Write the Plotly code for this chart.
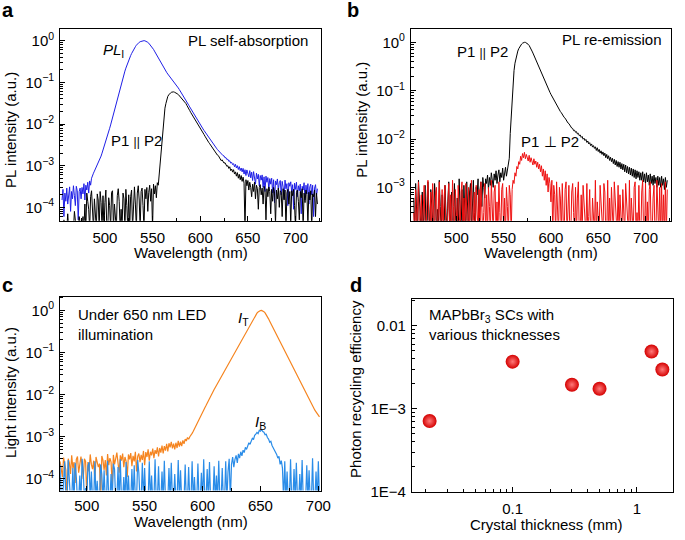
import plotly.graph_objects as go

# ---------------- data (1 nm sampling) ----------------
wl_ab = [455, 456, 457, 458, 459, 460, 461, 462, 463, 464,
         465, 466, 467, 468, 469, 470, 471, 472, 473, 474,
         475, 476, 477, 478, 479, 480, 481, 482, 483, 484,
         485, 486, 487, 488, 489, 490, 491, 492, 493, 494,
         495, 496, 497, 498, 499, 500, 501, 502, 503, 504,
         505, 506, 507, 508, 509, 510, 511, 512, 513, 514,
         515, 516, 517, 518, 519, 520, 521, 522, 523, 524,
         525, 526, 527, 528, 529, 530, 531, 532, 533, 534,
         535, 536, 537, 538, 539, 540, 541, 542, 543, 544,
         545, 546, 547, 548, 549, 550, 551, 552, 553, 554,
         555, 556, 557, 558, 559, 560, 561, 562, 563, 564,
         565, 566, 567, 568, 569, 570, 571, 572, 573, 574,
         575, 576, 577, 578, 579, 580, 581, 582, 583, 584,
         585, 586, 587, 588, 589, 590, 591, 592, 593, 594,
         595, 596, 597, 598, 599, 600, 601, 602, 603, 604,
         605, 606, 607, 608, 609, 610, 611, 612, 613, 614,
         615, 616, 617, 618, 619, 620, 621, 622, 623, 624,
         625, 626, 627, 628, 629, 630, 631, 632, 633, 634,
         635, 636, 637, 638, 639, 640, 641, 642, 643, 644,
         645, 646, 647, 648, 649, 650, 651, 652, 653, 654,
         655, 656, 657, 658, 659, 660, 661, 662, 663, 664,
         665, 666, 667, 668, 669, 670, 671, 672, 673, 674,
         675, 676, 677, 678, 679, 680, 681, 682, 683, 684,
         685, 686, 687, 688, 689, 690, 691, 692, 693, 694,
         695, 696, 697, 698, 699, 700, 701, 702, 703, 704,
         705, 706, 707, 708, 709, 710, 711, 712, 713, 714,
         715, 716, 717, 718, 719, 720, 721, 722, 723]

# panel a : PL_I (blue)
pl_i_a = [1.5e-4, 2.7e-4, 6e-5, 2.2e-4, 1.4e-4, 2.9e-4, 1.2e-4, 2.1e-4, 3.1e-4, 8e-5,
          2.4e-4, 1.6e-4, 3.3e-4, 1.9e-4, 1.1e-4, 3.2e-4, 2.5e-4, 5e-5, 2.4e-4, 2.9e-4,
          1.6e-4, 3.0e-4, 2.1e-4, 3.7e-4, 1.5e-4, 3.4e-4, 2.6e-4, 4.0e-4, 2.2e-4, 4.3e-4,
          3.4e-4, 5.0e-4, 6.0e-4, 6.6e-4, 7.4e-4, 8.3e-4, 9.3e-4, 1.05e-3, 1.15e-3, 1.26e-3,
          1.45e-3, 1.7e-3, 2.0e-3, 2.34e-3, 2.75e-3, 3.24e-3, 3.8e-3, 4.57e-3, 5.5e-3, 6.6e-3,
          7.9e-3, 9.5e-3, 1.17e-2, 1.45e-2, 1.78e-2, 2.19e-2, 2.69e-2, 3.31e-2, 4.07e-2, 5.0e-2,
          6.17e-2, 7.41e-2, 8.91e-2, 0.107, 0.129, 0.155, 0.186, 0.219, 0.257, 0.295,
          0.339, 0.389, 0.437, 0.49, 0.55, 0.603, 0.661, 0.716, 0.776, 0.832,
          0.871, 0.912, 0.944, 0.966, 0.986, 0.998, 1.0, 0.991, 0.973, 0.944,
          0.912, 0.871, 0.822, 0.776, 0.724, 0.676, 0.617, 0.562, 0.513, 0.462,
          0.417, 0.376, 0.339, 0.305, 0.275, 0.251, 0.229, 0.209, 0.195, 0.182,
          0.17, 0.158, 0.148, 0.138, 0.129, 0.12, 0.112, 0.105, 0.0977, 0.0912,
          0.0851, 0.0794, 0.0733, 0.0676, 0.0624, 0.0575, 0.0531, 0.049, 0.0447, 0.0407,
          0.0372, 0.0339, 0.0309, 0.0282, 0.0257, 0.0234, 0.0214, 0.0195, 0.0178, 0.0162,
          0.0148, 0.0136, 0.0126, 0.0116, 0.0107, 0.00977, 0.00891, 0.00822, 0.00759, 0.007,
          0.00646, 0.00596, 0.0055, 0.00507, 0.00468, 0.00432, 0.00398, 0.00372, 0.00347, 0.00324,
          0.00302, 0.00282, 0.00263, 0.00245, 0.00229, 0.00216, 0.00204, 0.00193, 0.00182, 0.00174,
          1.72e-3, 1.55e-3, 1.56e-3, 1.40e-3, 1.43e-3, 1.27e-3, 1.31e-3, 1.15e-3, 1.2e-3, 1.06e-3,
          1.12e-3, 9.4e-4, 1.08e-3, 8.8e-4, 1.0e-3, 8.1e-4, 9.5e-4, 7.6e-4, 8.8e-4, 7.1e-4,
          8.6e-4, 6.3e-4, 8.0e-4, 5.8e-4, 7.9e-4, 6.2e-4, 5.4e-4, 7.6e-4, 5.1e-4, 7.0e-4,
          4.4e-4, 7.2e-4, 5.0e-4, 3.6e-4, 6.6e-4, 4.8e-4, 6.2e-4, 3.3e-4, 5.8e-4, 4.5e-4,
          6.0e-4, 3.0e-4, 5.4e-4, 2.4e-4, 5.6e-4, 4.0e-4, 5.2e-4, 2.7e-4, 4.9e-4, 3.6e-4,
          5.0e-4, 2.2e-4, 4.6e-4, 1.3e-4, 4.3e-4, 3.5e-4, 4.8e-4, 2.6e-4, 3.9e-4, 4.4e-4,
          2.0e-4, 4.2e-4, 3.1e-4, 1.6e-4, 4.5e-4, 2.8e-4, 3.7e-4, 1.1e-4, 3.9e-4, 3.2e-4,
          4.1e-4, 2.3e-4, 3.5e-4, 9e-5, 3.8e-4, 2.7e-4, 4.0e-4, 1.8e-4, 3.3e-4, 2.5e-4,
          3.6e-4, 7e-5, 3.2e-4, 2.6e-4, 3.9e-4, 1.5e-4, 3.4e-4, 2.1e-4, 3.7e-4, 1.2e-4,
          3.1e-4, 3.6e-4, 2.0e-4, 3.4e-4, 6e-5, 2.9e-4, 3.5e-4, 1.9e-4, 2.8e-4]

# panel a : P1 || P2 (black)
par_a = [3e-5, 3e-5, 5e-5, 3e-5, 3e-5, 3e-5, 7e-5, 3e-5, 3e-5, 3e-5,
         4e-5, 3e-5, 3e-5, 8e-5, 3e-5, 3e-5, 3e-5, 3e-5, 6e-5, 3e-5,
         3e-5, 3e-5, 6e-5, 3e-5, 1.2e-4, 3e-5, 2.2e-4, 1.4e-4, 9e-5, 3e-5,
         1.8e-4, 2.5e-4, 1.1e-4, 3e-5, 1.6e-4, 3e-5, 3e-5, 2.1e-4, 1.5e-4, 3e-5,
         2.4e-4, 1.3e-4, 3e-5, 1.9e-4, 3e-5, 1.3e-4, 2.6e-4, 3e-5, 3e-5, 1.7e-4,
         1.1e-4, 3e-5, 2.3e-4, 2.5e-4, 3e-5, 1.2e-4, 3e-5, 3e-5, 1.9e-4, 2.8e-4,
         1.4e-4, 3e-5, 9e-5, 3e-5, 2.2e-4, 1.6e-4, 3e-5, 2.7e-4, 1.1e-4, 3e-5,
         2.0e-4, 3e-5, 1.8e-4, 2.6e-4, 3e-5, 1.4e-4, 3.1e-4, 1.2e-4, 3e-5, 2.2e-4,
         3.3e-4, 1.5e-4, 3e-5, 2.4e-4, 2.9e-4, 1.1e-4, 3e-5, 2.7e-4, 1.6e-4, 3.0e-4,
         8e-5, 2.3e-4, 3.4e-4, 1.4e-4, 2.8e-4, 3e-5, 3.6e-4, 2.1e-4, 3.3e-4, 1.7e-4,
         3.9e-4, 3.4e-4, 6.5e-4, 1.3e-3, 2.6e-3, 5.0e-3, 9.5e-3, 1.6e-2, 2.4e-2, 3.1e-2,
         4.0e-2, 4.6e-2, 5.0e-2, 5.4e-2, 5.6e-2, 5.8e-2, 5.9e-2, 5.9e-2, 5.8e-2, 5.7e-2,
         5.5e-2, 5.3e-2, 5.1e-2, 4.8e-2, 4.6e-2, 4.3e-2, 4.1e-2, 3.8e-2, 3.6e-2, 3.3e-2,
         3.1e-2, 2.8e-2, 2.6e-2, 2.35e-2, 2.1e-2, 1.9e-2, 1.75e-2, 1.6e-2, 1.45e-2, 1.32e-2,
         1.2e-2, 1.1e-2, 1.0e-2, 9.2e-3, 8.5e-3, 7.8e-3, 7.2e-3, 6.6e-3, 6.1e-3, 5.6e-3,
         5.1e-3, 4.6e-3, 4.2e-3, 3.9e-3, 3.6e-3, 3.35e-3, 3.1e-3, 2.85e-3, 2.6e-3, 2.4e-3,
         2.25e-3, 2.05e-3, 1.95e-3, 1.8e-3, 1.75e-3, 1.55e-3, 1.5e-3, 1.32e-3, 1.38e-3, 1.2e-3,
         1.15e-3, 1.18e-3, 1.02e-3, 9.6e-4, 1.0e-3, 8.6e-4, 9.4e-4, 7.6e-4, 8.3e-4, 7.0e-4,
         8.0e-4, 6.3e-4, 7.1e-4, 5.6e-4, 6.8e-4, 5.0e-4, 6.2e-4, 4.6e-4, 5.8e-4, 4.2e-4,
         5.3e-4, 3.8e-4, 3e-5, 4.6e-4, 3.3e-4, 4.4e-4, 2.6e-4, 4.0e-4, 3.0e-4, 1.8e-4,
         3.6e-4, 2.4e-4, 4.0e-4, 1.6e-4, 3.4e-4, 2.8e-4, 9e-5, 3.0e-4, 3.5e-4, 2.0e-4,
         2.9e-4, 1.2e-4, 3.2e-4, 2.6e-4, 5e-5, 2.8e-4, 1.8e-4, 3.1e-4, 2.4e-4, 7e-5,
         2.7e-4, 1.4e-4, 3.0e-4, 2.2e-4, 4e-5, 2.6e-4, 1.6e-4, 2.9e-4, 1.0e-4, 2.5e-4,
         2.3e-4, 6e-5, 2.8e-4, 1.5e-4, 2.6e-4, 3e-5, 2.2e-4, 2.7e-4, 1.2e-4, 2.4e-4,
         4e-5, 2.5e-4, 1.9e-4, 2.7e-4, 1.1e-4, 3e-5, 2.3e-4, 2.6e-4, 1.4e-4, 5e-5,
         2.4e-4, 1.7e-4, 2.8e-4, 3e-5, 2.2e-4, 1.3e-4, 2.6e-4, 2.0e-4, 4e-5, 2.3e-4,
         1.5e-4, 2.5e-4, 3e-5, 2.1e-4, 1.8e-4, 2.6e-4, 6e-5, 2.2e-4, 1.2e-4]

# panel b : P1 || P2 (black)
par_b = [6e-4, 1.0e-4, 1.2e-3, 3e-4, 1.0e-4, 1.4e-3, 7e-4, 2e-4, 1.0e-4, 8e-4,
         1.0e-4, 4e-4, 1.1e-3, 1.0e-4, 1.0e-4, 1.3e-3, 5e-4, 1.0e-4, 9e-4, 2.5e-4,
         1.0e-4, 1.0e-4, 1.2e-3, 6e-4, 1.0e-4, 3.5e-4, 1.0e-4, 1.4e-3, 4e-4, 1.0e-4,
         7e-4, 1.0e-4, 1.0e-4, 1.1e-3, 2.8e-4, 1.0e-4, 5e-4, 1.3e-3, 1.0e-4, 3e-4,
         8e-4, 1.0e-4, 1.0e-4, 1.2e-3, 4.5e-4, 1.0e-4, 6e-4, 1.0e-4, 1.5e-3, 3e-4,
         1.0e-4, 9e-4, 1.0e-4, 1.1e-3, 5e-4, 1.0e-4, 1.3e-3, 2.5e-4, 1.0e-4, 8e-4,
         1.2e-3, 1.0e-4, 6e-4, 1.4e-3, 3e-4, 1.0e-4, 1.0e-3, 7e-4, 1.5e-3, 1.0e-4,
         9e-4, 1.3e-3, 4e-4, 1.6e-3, 1.0e-3, 6e-4, 1.5e-3, 1.2e-3, 1.8e-3, 9e-4,
         1.6e-3, 1.1e-3, 2.0e-3, 1.3e-3, 1.0e-3, 1.9e-3, 1.4e-3, 2.2e-3, 1.2e-3, 1.8e-3,
         2.3e-3, 1.3e-3, 2.0e-3, 1.6e-3, 2.5e-3, 1.4e-3, 2.1e-3, 2.6e-3, 1.7e-3, 2.4e-3,
         2.8e-3, 4.0e-3, 1.3e-2, 2.9e-2, 7.0e-2, 0.15, 0.26, 0.37, 0.47, 0.57,
         0.66, 0.74, 0.81, 0.87, 0.92, 0.96, 0.99, 1.0, 1.0, 0.98,
         0.95, 0.91, 0.86, 0.8, 0.73, 0.66, 0.6, 0.54, 0.49, 0.44,
         0.39, 0.35, 0.31, 0.28, 0.25, 0.22, 0.2, 0.18, 0.16, 0.145,
         0.13, 0.12, 0.11, 0.1, 0.092, 0.084, 0.077, 0.071, 0.065, 0.06,
         0.055, 0.05, 0.046, 0.043, 0.04, 0.037, 0.035, 0.032, 0.03, 0.028,
         0.027, 0.0248, 0.0238, 0.0215, 0.0208, 0.019, 0.0184, 0.0168, 0.0165, 0.0149,
         0.0152, 0.0138, 0.0142, 0.0127, 0.0131, 0.0117, 0.0121, 0.0108, 0.0113, 0.0099,
         0.0104, 0.0093, 0.0098, 0.0085, 0.0091, 0.0079, 0.0084, 0.0073, 0.0079, 0.0068,
         0.0073, 0.0064, 0.0069, 0.0058, 0.0066, 0.0055, 0.0061, 0.0051, 0.0057, 0.0048,
         0.0054, 0.0045, 0.0051, 0.0041, 0.0048, 0.0039, 0.0045, 0.0036, 0.0042, 0.0034,
         0.004, 0.0031, 0.0038, 0.0029, 0.0036, 0.0027, 0.0034, 0.0026, 0.0033, 0.0024,
         0.0031, 0.0023, 0.003, 0.0021, 0.0029, 0.002, 0.0027, 0.0019, 0.0026, 0.0018,
         0.0025, 0.0017, 0.0024, 0.0016, 0.0023, 0.0015, 0.0022, 0.0016, 0.0021, 0.0014,
         0.002, 0.0014, 0.0021, 0.0013, 0.0019, 0.0012, 0.002, 0.0013, 0.0018, 0.0011,
         0.0019, 0.0012, 0.0017, 0.0011, 0.0018, 0.0012, 0.0016, 0.001, 0.0017, 0.0011,
         0.0016, 0.001, 0.0017, 0.0011, 0.0015, 0.0009, 0.0016, 0.001, 0.0014]

# panel b : P1 ⊥ P2 (red)
perp_b = [3e-4, 1.0e-4, 9e-4, 1.0e-4, 4e-4, 1.3e-3, 1.0e-4, 2.5e-4, 7e-4, 1.0e-4,
          5e-4, 1.1e-3, 1.0e-4, 1.0e-4, 6e-4, 1.4e-3, 2e-4, 1.0e-4, 8e-4, 1.0e-4,
          1.2e-3, 3e-4, 1.0e-4, 7e-4, 1.0e-3, 1.0e-4, 4e-4, 1.3e-3, 1.0e-4, 2e-4,
          9e-4, 1.0e-4, 6e-4, 1.1e-3, 1.0e-4, 1.0e-4, 3.5e-4, 1.2e-3, 1.0e-4, 7e-4,
          1.0e-4, 1.4e-3, 4e-4, 1.0e-4, 9e-4, 2.5e-4, 1.0e-4, 1.1e-3, 5e-4, 1.0e-4,
          8e-4, 1.3e-3, 1.0e-4, 6e-4, 1.0e-4, 1.2e-3, 3e-4, 1.0e-4, 1.0e-3, 1.0e-4,
          5e-4, 1.4e-3, 1.0e-4, 2e-4, 8e-4, 1.0e-4, 1.1e-3, 4e-4, 1.0e-4, 9e-4,
          1.0e-4, 1.3e-3, 6e-4, 1.0e-4, 3e-4, 1.2e-3, 1.0e-4, 7e-4, 1.0e-4, 1.0e-3,
          4e-4, 1.0e-4, 1.4e-3, 2e-4, 1.0e-4, 8e-4, 1.1e-3, 1.0e-4, 5e-4, 1.0e-4,
          1.3e-3, 3e-4, 1.0e-4, 9e-4, 1.2e-3, 1.0e-4, 6e-4, 1.0e-4, 1.0e-3, 4e-4,
          1.0e-4, 1.1e-3, 7e-4, 1.0e-4, 9e-4, 1.4e-3, 1.2e-3, 2.0e-3, 1.7e-3, 2.7e-3,
          2.4e-3, 3.4e-3, 3.0e-3, 4.4e-3, 3.6e-3, 5.0e-3, 4.1e-3, 5.3e-3, 3.9e-3, 4.8e-3,
          4.2e-3, 3.5e-3, 4.6e-3, 3.3e-3, 4.1e-3, 3.6e-3, 2.9e-3, 3.9e-3, 3.0e-3, 3.5e-3,
          2.6e-3, 3.3e-3, 2.4e-3, 3.0e-3, 2.1e-3, 2.8e-3, 1.7e-3, 2.4e-3, 1.4e-3, 2.2e-3,
          1.1e-3, 1.9e-3, 8e-4, 1.6e-3, 1.2e-3, 5e-4, 1.4e-3, 1.0e-4, 1.1e-3, 7e-4,
          1.0e-4, 1.3e-3, 4e-4, 1.0e-4, 1.0e-3, 6e-4, 1.0e-4, 1.2e-3, 2e-4, 1.0e-4,
          9e-4, 1.3e-3, 1.0e-4, 5e-4, 1.1e-3, 1.0e-4, 1.0e-4, 8e-4, 1.2e-3, 3e-4,
          1.0e-4, 1.0e-3, 1.0e-4, 6e-4, 1.3e-3, 1.0e-4, 1.0e-4, 7e-4, 1.0e-4, 1.1e-3,
          4e-4, 1.0e-4, 1.0e-4, 1.2e-3, 1.0e-4, 2.5e-4, 9e-4, 1.0e-4, 1.0e-4, 6e-4,
          1.0e-4, 1.0e-4, 1.4e-3, 1.0e-4, 5e-4, 1.0e-4, 1.0e-4, 1.1e-3, 3e-4, 1.0e-4,
          1.0e-4, 1.2e-3, 8e-4, 1.0e-4, 1.0e-4, 1.4e-3, 1.0e-4, 6e-4, 1.0e-4, 1.0e-3,
          1.0e-4, 1.0e-4, 1.3e-3, 4e-4, 1.0e-4, 1.0e-4, 1.1e-3, 1.0e-4, 7e-4, 1.0e-4,
          1.0e-4, 9e-4, 1.0e-4, 1.0e-4, 1.2e-3, 5e-4, 1.0e-4, 1.0e-4, 1.4e-3, 1.0e-4,
          6e-4, 1.0e-4, 1.0e-4, 1.0e-3, 1.3e-3, 1.0e-4, 3e-4, 1.0e-4, 1.1e-3, 1.0e-4,
          1.0e-4, 8e-4, 1.4e-3, 1.0e-4, 1.0e-4, 1.2e-3, 1.0e-4, 5e-4, 1.0e-4, 9e-4,
          1.3e-3, 1.0e-4, 1.0e-4, 6e-4, 1.1e-3, 1.0e-4, 1.0e-4, 1.4e-3, 3e-4, 1.0e-4,
          1.0e-3, 1.0e-4, 1.2e-3, 1.0e-4, 7e-4, 1.0e-4, 1.3e-3, 1.0e-4, 9e-4]

# panel c
wl_c = [477, 478, 479, 480, 481, 482, 483, 484, 485, 486,
        487, 488, 489, 490, 491, 492, 493, 494, 495, 496,
        497, 498, 499, 500, 501, 502, 503, 504, 505, 506,
        507, 508, 509, 510, 511, 512, 513, 514, 515, 516,
        517, 518, 519, 520, 521, 522, 523, 524, 525, 526,
        527, 528, 529, 530, 531, 532, 533, 534, 535, 536,
        537, 538, 539, 540, 541, 542, 543, 544, 545, 546,
        547, 548, 549, 550, 551, 552, 553, 554, 555, 556,
        557, 558, 559, 560, 561, 562, 563, 564, 565, 566,
        567, 568, 569, 570, 571, 572, 573, 574, 575, 576,
        577, 578, 579, 580, 581, 582, 583, 584, 585, 586,
        587, 588, 589, 590, 591, 592, 593, 594, 595, 596,
        597, 598, 599, 600, 601, 602, 603, 604, 605, 606,
        607, 608, 609, 610, 611, 612, 613, 614, 615, 616,
        617, 618, 619, 620, 621, 622, 623, 624, 625, 626,
        627, 628, 629, 630, 631, 632, 633, 634, 635, 636,
        637, 638, 639, 640, 641, 642, 643, 644, 645, 646,
        647, 648, 649, 650, 651, 652, 653, 654, 655, 656,
        657, 658, 659, 660, 661, 662, 663, 664, 665, 666,
        667, 668, 669, 670, 671, 672, 673, 674, 675, 676,
        677, 678, 679, 680, 681, 682, 683, 684, 685, 686,
        687, 688, 689, 690, 691, 692, 693, 694, 695, 696,
        697, 698, 699, 700, 701]

# panel c : I_T (orange)
i_t = [2.6e-4, 1.4e-4, 1.1e-4, 3.2e-4, 2.0e-4, 1.6e-4, 3e-5, 3.0e-4, 2.4e-4, 1.3e-4,
       3.6e-4, 1.8e-4, 2.5e-4, 8e-5, 2.9e-4, 3.4e-4, 1.4e-4, 2.2e-4, 3.4e-4, 2.0e-4,
       1.0e-4, 3.0e-4, 2.6e-4, 4e-5, 2.5e-4, 1.5e-4, 3.8e-4, 2.2e-4, 1.7e-4, 2.7e-4,
       9e-5, 3.3e-4, 2.4e-4, 1.9e-4, 2.3e-4, 3e-5, 3.5e-4, 2.8e-4, 1.6e-4, 2.8e-4,
       1.2e-4, 3.9e-4, 2.1e-4, 3.1e-4, 2.5e-4, 7e-5, 3.7e-4, 2.2e-4, 3.0e-4, 4.2e-4,
       2.4e-4, 1.4e-4, 3.6e-4, 2.7e-4, 4.0e-4, 1.9e-4, 3.3e-4, 2.6e-4, 1.1e-4, 3.8e-4,
       2.9e-4, 4.1e-4, 2.0e-4, 3.5e-4, 2.6e-4, 4.4e-4, 1.5e-4, 3.4e-4, 4.0e-4, 2.5e-4,
       3.7e-4, 2.8e-4, 4.6e-4, 2.1e-4, 4.3e-4, 3.3e-4, 5.0e-4, 2.7e-4, 4.4e-4, 3.6e-4,
       5.2e-4, 3.1e-4, 4.8e-4, 3.9e-4, 5.6e-4, 3.4e-4, 5.4e-4, 4.2e-4, 6.2e-4, 4.0e-4,
       6.0e-4, 4.7e-4, 6.8e-4, 4.5e-4, 7.0e-4, 5.6e-4, 7.6e-4, 5.3e-4, 6.9e-4, 5.0e-4,
       7.2e-4, 5.4e-4, 8.0e-4, 5.8e-4, 7.6e-4, 6.0e-4, 8.2e-4, 6.8e-4, 8.8e-4, 7.9e-4,
       9.6e-4, 8.7e-4, 1.0e-3, 1.07e-3, 1.2e-3, 1.35e-3, 1.55e-3, 1.78e-3, 2.04e-3, 2.29e-3,
       2.63e-3, 2.95e-3, 3.31e-3, 3.8e-3, 4.27e-3, 4.9e-3, 5.5e-3, 6.31e-3, 7.08e-3, 8.13e-3,
       9.12e-3, 1.05e-2, 1.17e-2, 1.32e-2, 1.48e-2, 1.66e-2, 1.86e-2, 2.09e-2, 2.34e-2, 2.63e-2,
       2.95e-2, 3.31e-2, 3.72e-2, 4.17e-2, 4.68e-2, 5.25e-2, 5.89e-2, 6.61e-2, 7.41e-2, 8.32e-2,
       9.33e-2, 0.105, 0.117, 0.132, 0.148, 0.166, 0.186, 0.209, 0.234, 0.263,
       0.295, 0.331, 0.372, 0.417, 0.468, 0.525, 0.589, 0.661, 0.724, 0.794,
       0.861, 0.923, 0.966, 0.993, 1.0, 0.982, 0.933, 0.871, 0.794, 0.708,
       0.631, 0.556, 0.49, 0.432, 0.38, 0.335, 0.295, 0.26, 0.229, 0.202,
       0.178, 0.157, 0.138, 0.122, 0.107, 0.0944, 0.0832, 0.0733, 0.0646, 0.0569,
       0.0501, 0.0442, 0.0389, 0.0343, 0.0302, 0.0266, 0.0234, 0.0207, 0.0182, 0.016,
       0.0141, 0.0124, 0.011, 0.00966, 0.00851, 0.00759, 0.00676, 0.00603, 0.00537, 0.00479,
       0.00427, 0.00389, 0.00355, 0.00324, 0.00295]

# panel c : I_B (blue)
i_b = [2.2e-4, 3e-5, 3e-5, 1.4e-4, 2.6e-4, 3e-5, 3e-5, 2.8e-4, 8e-5, 3e-5,
       3e-5, 1.8e-4, 3e-5, 2.4e-4, 1.1e-4, 3e-5, 3e-5, 1.2e-4, 3e-5, 3.0e-4,
       1.5e-4, 3e-5, 6e-5, 3e-5, 2.0e-4, 2.5e-4, 3e-5, 1.5e-4, 3e-5, 3e-5,
       2.6e-4, 3e-5, 9e-5, 3e-5, 3e-5, 2.2e-4, 1.3e-4, 3e-5, 1.6e-4, 3e-5,
       3e-5, 2.7e-4, 3e-5, 3e-5, 1.3e-4, 3e-5, 2.3e-4, 1.7e-4, 3e-5, 3e-5,
       1.9e-4, 3e-5, 2.9e-4, 3e-5, 3e-5, 1.1e-4, 3e-5, 2.5e-4, 3e-5, 1.2e-4,
       3e-5, 3e-5, 1.7e-4, 3e-5, 2.1e-4, 3e-5, 3e-5, 2.8e-4, 1.4e-4, 3e-5,
       3e-5, 2.4e-4, 3e-5, 1.8e-4, 3e-5, 3e-5, 3e-5, 2.6e-4, 3e-5, 1.2e-4,
       3e-5, 3e-5, 2.9e-4, 3e-5, 3e-5, 2.0e-4, 3e-5, 3e-5, 1.5e-4, 3e-5,
       2.7e-4, 3e-5, 3e-5, 3e-5, 1.8e-4, 3e-5, 2.4e-4, 3e-5, 3e-5, 1.3e-4,
       3e-5, 3e-5, 2.8e-4, 3e-5, 1.6e-4, 3e-5, 3e-5, 3e-5, 2.2e-4, 3e-5,
       3e-5, 1.9e-4, 3e-5, 3e-5, 2.6e-4, 3e-5, 1.1e-4, 3e-5, 3e-5, 2.3e-4,
       3e-5, 3e-5, 1.4e-4, 3e-5, 2.9e-4, 3e-5, 3e-5, 1.7e-4, 3e-5, 2.5e-4,
       3e-5, 3e-5, 3e-5, 2.0e-4, 3e-5, 1.2e-4, 3e-5, 2.7e-4, 3e-5, 3e-5,
       1.8e-4, 3e-5, 3e-5, 2.6e-4, 3e-5, 1.5e-4, 3.0e-4, 3e-5, 2.2e-4, 3.3e-4,
       1.9e-4, 2.9e-4, 3.6e-4, 2.4e-4, 3.9e-4, 3.1e-4, 4.4e-4, 3.5e-4, 4.8e-4, 4.2e-4,
       5.6e-4, 5.0e-4, 6.4e-4, 7.2e-4, 6.6e-4, 8.4e-4, 9.2e-4, 8.6e-4, 1.08e-3, 1.15e-3,
       1.26e-3, 1.18e-3, 1.42e-3, 1.35e-3, 1.48e-3, 1.32e-3, 1.28e-3, 1.12e-3, 1.15e-3, 9.6e-4,
       8.8e-4, 7.4e-4, 7.8e-4, 6.2e-4, 5.6e-4, 5.0e-4, 4.3e-4, 3.8e-4, 3.1e-4, 3.4e-4,
       2.2e-4, 2.7e-4, 1.8e-4, 3e-5, 2.6e-4, 3e-5, 1.5e-4, 3e-5, 3e-5, 2.9e-4,
       3e-5, 3e-5, 1.7e-4, 3e-5, 2.4e-4, 3e-5, 3e-5, 1.3e-4, 3e-5, 2.8e-4,
       3e-5, 3e-5, 3e-5, 2.1e-4, 3e-5, 1.6e-4, 3e-5, 3e-5, 3.1e-4, 3e-5,
       3e-5, 1.5e-4, 3e-5, 2.6e-4, 3e-5]

# panel d : photon recycling efficiency vs crystal thickness
thickness_mm = [0.0215, 0.1, 0.30, 0.50, 1.31, 1.6]
recycling_eff = [7.1e-4, 3.7e-3, 1.95e-3, 1.74e-3, 4.9e-3, 2.97e-3]

# tick labels
wl_ticks = [500, 550, 600, 650, 700]
log_tickvals = [1, 0.1, 0.01, 0.001, 0.0001]
log_ticktext = ["10<sup>0</sup>", "10<sup>\u22121</sup>", "10<sup>\u22122</sup>",
                "10<sup>\u22123</sup>", "10<sup>\u22124</sup>"]
d_y_tickvals = [0.01, 0.001, 0.0001]
d_y_ticktext = ["0.01", "1E\u22123", "1E\u22124"]
d_x_tickvals = [0.1, 1]
d_x_ticktext = ["0.1", "1"]

# ---------------- styling ----------------
W, H = 685, 540
FONT = "Liberation Sans, Arial, Helvetica, sans-serif"
minor_log = [k * 10.0 ** e for e in range(-6, 2) for k in range(2, 10)]


def dom_x(a, b):
    return [a / W, b / W]


def dom_y(top, bottom):
    return [1 - bottom / H, 1 - top / H]


def base_axis(**kw):
    d = dict(showline=True, mirror=True, linecolor="black", linewidth=1,
             ticks="inside", ticklen=5, tickwidth=1, tickcolor="black",
             showgrid=False, zeroline=False,
             tickfont=dict(family=FONT, size=15, color="black"))
    d.update(kw)
    return d


def wl_axis(domain, rng, anchor, standoff=3):
    return base_axis(domain=domain, range=rng, anchor=anchor,
                     tickmode="array", tickvals=wl_ticks,
                     minor=dict(ticks="inside", ticklen=3, tickcolor="black",
                                tickmode="linear", tick0=475, dtick=50),
                     ticklabelstandoff=standoff)


def log_axis(domain, rng, anchor, tv, tt, standoff):
    return base_axis(domain=domain, type="log", range=rng, anchor=anchor,
                     tickmode="array", tickvals=tv, ticktext=tt,
                     minor=dict(ticks="inside", ticklen=3, tickcolor="black",
                                tickmode="array", tickvals=minor_log),
                     ticklabelstandoff=standoff)


fig = go.Figure()

# panel a
fig.add_trace(go.Scatter(x=wl_ab, y=pl_i_a, mode="lines",
                         line=dict(color="#1f1fe6", width=1), xaxis="x", yaxis="y"))
fig.add_trace(go.Scatter(x=wl_ab, y=par_a, mode="lines",
                         line=dict(color="black", width=1), xaxis="x", yaxis="y"))
# panel b
fig.add_trace(go.Scatter(x=wl_ab, y=par_b, mode="lines",
                         line=dict(color="black", width=1), xaxis="x2", yaxis="y2"))
fig.add_trace(go.Scatter(x=wl_ab, y=perp_b, mode="lines",
                         line=dict(color="#ee1111", width=1), xaxis="x2", yaxis="y2"))
# panel c
fig.add_trace(go.Scatter(x=wl_c, y=i_t, mode="lines",
                         line=dict(color="#f5841f", width=1.2), xaxis="x3", yaxis="y3"))
fig.add_trace(go.Scatter(x=wl_c, y=i_b, mode="lines",
                         line=dict(color="#2a8ce8", width=1.2), xaxis="x3", yaxis="y3"))
# panel d
fig.add_trace(go.Scatter(x=thickness_mm, y=recycling_eff, mode="markers",
                         marker=dict(size=14, color="#d40000",
                                     gradient=dict(type="radial", color="#ff7a7a"),
                                     line=dict(width=0)),
                         xaxis="x4", yaxis="y4"))

fig.update_layout(
    width=W, height=H, autosize=False,
    margin=dict(l=0, r=0, t=0, b=0),
    paper_bgcolor="white", plot_bgcolor="white",
    showlegend=False,
    font=dict(family=FONT, size=15, color="black"),
    xaxis=wl_axis(dom_x(61, 326), [453, 727], "y"),
    yaxis=log_axis(dom_y(29, 224), [-4.32, 0.29], "x", log_tickvals, log_ticktext, 2),
    xaxis2=wl_axis(dom_x(417, 681), [452, 727], "y2"),
    yaxis2=log_axis(dom_y(29, 224), [-3.69, 0.285], "x2", log_tickvals, log_ticktext, 2),
    xaxis3=wl_axis(dom_x(61, 326), [477, 702.5], "y3", standoff=1),
    yaxis3=log_axis(dom_y(301, 498), [-4.28, 0.33], "x3", log_tickvals, log_ticktext, 2),
    xaxis4=log_axis(dom_x(418, 683), [-1.81, 0.29], "y4", d_x_tickvals, d_x_ticktext, 3),
    yaxis4=log_axis(dom_y(303, 499), [-4.0, -1.67], "x4", d_y_tickvals, d_y_ticktext, 2),
)


def ann(text, x, y, xanchor="left", yanchor="middle", size=15, angle=0, **kw):
    fig.add_annotation(text=text, x=x / W, y=1 - y / H, xref="paper", yref="paper",
                       xanchor=xanchor, yanchor=yanchor, showarrow=False,
                       textangle=angle, font=dict(family=FONT, size=size, color="black"),
                       **kw)


# panel letters
ann("<b>a</b>", 0, -3, yanchor="top", size=20)
ann("<b>b</b>", 350, -3, yanchor="top", size=20)
ann("<b>c</b>", 0, 276, yanchor="top", size=20)
ann("<b>d</b>", 353, 276, yanchor="top", size=20)

# axis titles
ann("Wavelength (nm)", 193.5, 256, xanchor="center")
ann("Wavelength (nm)", 549, 256, xanchor="center")
ann("Wavelength (nm)", 193.5, 529, xanchor="center")
ann("Crystal thickness (mm)", 555, 532, xanchor="center")
ann("PL intensity (a.u.)", 10, 132, xanchor="center", angle=-90)
ann("PL intensity (a.u.)", 367, 122, xanchor="center", angle=-90)
ann("Light intensity (a.u.)", 10, 398, xanchor="center", angle=-90)
ann("Photon recycling efficiency", 360, 395, xanchor="center", angle=-90)

# in-plot labels
PAR = "<span style='font-size:12px'>||</span>"
ann("PL self-absorption", 315, 41, xanchor="right")
ann("<i>PL</i><sub>I</sub>", 102, 51)
ann("P1 " + PAR + " P2", 111, 142.5)
ann("PL re-emission", 673, 40, xanchor="right")
ann("P1 " + PAR + " P2", 462, 52)
ann("P1 \u22a5 P2", 527, 144)
ann("Under 650 nm LED<br>illumination", 77, 309, yanchor="top", align="left")
ann("<i>I</i><sub>T</sub>", 240, 323)
ann("<i>I</i><sub>B</sub>", 257, 429)
ann("MAPbBr<sub>3</sub> SCs with<br>various thicknesses", 433, 309, yanchor="top", align="left")

# the page's default 8px body margin would offset the whole figure
fig.write_html("out.html", config={"displayModeBar": False},
               post_script="document.body.style.margin='0px';")
